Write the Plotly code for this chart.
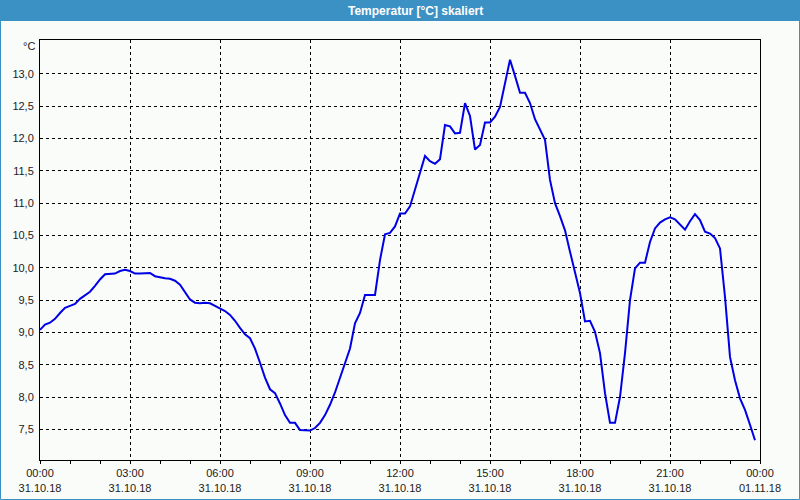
import plotly.graph_objects as go

# ---- data (10-minute readings, 31.10.18) ----
times = [
    "00:00","00:10","00:20","00:30","00:40","00:50","01:00","01:10","01:20","01:30","01:40","01:50",
    "02:00","02:10","02:20","02:30","02:40","02:50","03:00","03:10","03:20","03:30","03:40","03:50",
    "04:00","04:10","04:20","04:30","04:40","04:50","05:00","05:10","05:20","05:30","05:40","05:50",
    "06:00","06:10","06:20","06:30","06:40","06:50","07:00","07:10","07:20","07:30","07:40","07:50",
    "08:00","08:10","08:20","08:30","08:40","08:50","09:00","09:10","09:20","09:30","09:40","09:50",
    "10:00","10:10","10:20","10:30","10:40","10:50","11:00","11:10","11:20","11:30","11:40","11:50",
    "12:00","12:10","12:20","12:30","12:40","12:50","13:00","13:10","13:20","13:30","13:40","13:50",
    "14:00","14:10","14:20","14:30","14:40","14:50","15:00","15:10","15:20","15:30","15:40","15:50",
    "16:00","16:10","16:20","16:30","16:40","16:50","17:00","17:10","17:20","17:30","17:40","17:50",
    "18:00","18:10","18:20","18:30","18:40","18:50","19:00","19:10","19:20","19:30","19:40","19:50",
    "20:00","20:10","20:20","20:30","20:40","20:50","21:00","21:10","21:20","21:30","21:40","21:50",
    "22:00","22:10","22:20","22:30","22:40","22:50","23:00","23:10","23:20","23:30","23:40","23:50",
]
temps = [
    9.04, 9.12, 9.15, 9.21, 9.30, 9.38, 9.41, 9.44, 9.52, 9.58, 9.63, 9.72,
    9.82, 9.90, 9.91, 9.91, 9.95, 9.97, 9.95, 9.91, 9.91, 9.91, 9.92, 9.87,
    9.85, 9.84, 9.83, 9.80, 9.74, 9.63, 9.51, 9.46, 9.45, 9.46, 9.45, 9.41,
    9.37, 9.33, 9.27, 9.18, 9.07, 8.97, 8.91, 8.75, 8.53, 8.30, 8.12, 8.06,
    7.90, 7.72, 7.60, 7.60, 7.49, 7.48, 7.48, 7.52, 7.60, 7.72, 7.88, 8.07,
    8.30, 8.52, 8.75, 9.14, 9.30, 9.58, 9.58, 9.58, 10.12, 10.52, 10.54, 10.64,
    10.84, 10.84, 10.95, 11.22, 11.48, 11.73, 11.65, 11.61, 11.68, 12.21, 12.19, 12.08,
    12.09, 12.55, 12.35, 11.83, 11.90, 12.25, 12.25, 12.34, 12.49, 12.85, 13.22, 12.97,
    12.71, 12.71, 12.55, 12.30, 12.15, 11.98, 11.36, 11.00, 10.80, 10.58, 10.25, 9.95,
    9.61, 9.17, 9.18, 9.01, 8.68, 8.06, 7.60, 7.60, 8.00, 8.68, 9.50, 9.99,
    10.08, 10.08, 10.40, 10.61, 10.70, 10.75, 10.78, 10.75, 10.67, 10.59, 10.72, 10.83,
    10.74, 10.56, 10.53, 10.46, 10.30, 9.55, 8.62, 8.26, 7.98, 7.80, 7.57, 7.33,
]
x_tick_vals = ["2018-10-31 00:00", "2018-10-31 03:00", "2018-10-31 06:00", "2018-10-31 09:00",
               "2018-10-31 12:00", "2018-10-31 15:00", "2018-10-31 18:00", "2018-10-31 21:00",
               "2018-11-01 00:00"]
x_tick_text = ["00:00<br>31.10.18", "03:00<br>31.10.18", "06:00<br>31.10.18", "09:00<br>31.10.18",
               "12:00<br>31.10.18", "15:00<br>31.10.18", "18:00<br>31.10.18", "21:00<br>31.10.18",
               "00:00<br>01.11.18"]
y_tick_vals = [7.5, 8.0, 8.5, 9.0, 9.5, 10.0, 10.5, 11.0, 11.5, 12.0, 12.5, 13.0]

title_text = "Temperatur [°C] skaliert"
unit_text = "°C"

x = ["2018-10-31 " + t for t in times]

BG = "#fafcfa"
BLUE_BAR = "#3c91c4"
FONT = "Liberation Sans, Arial, sans-serif"

fig = go.Figure()
fig.add_trace(go.Scatter(x=x, y=temps, mode="lines",
                         line=dict(color="#0000e6", width=2), hoverinfo="x+y"))

# plot area: x 40..760, y 40..460 (px)
def px_x(p):
    return (p - 40) / 720.0

def px_y(p):
    return (460 - p) / 420.0

fig.update_layout(
    width=800, height=500,
    margin=dict(l=40, r=40, t=40, b=40, autoexpand=False),
    paper_bgcolor=BG, plot_bgcolor=BG,
    separators=",.",
    showlegend=False,
    font=dict(family=FONT, size=11, color="#1a1a1a"),
    xaxis=dict(
        type="date", automargin=False,
        range=["2018-10-31 00:00", "2018-11-01 00:00"],
        tickvals=x_tick_vals, ticktext=x_tick_text,
        ticks="outside", ticklen=3, tickcolor="black", tickwidth=1,
        minor=dict(dtick=3600000, ticks="outside", ticklen=3, tickcolor="black", showgrid=False),
        showgrid=True, gridcolor="black", gridwidth=1, griddash="3px,3px",
        showline=True, linecolor="black", linewidth=1, mirror=True,
        zeroline=False, fixedrange=True,
        tickfont=dict(family=FONT, size=11, color="#1a1a1a"),
    ),
    yaxis=dict(
        automargin=False,
        range=[7.025, 13.526],
        tickvals=y_tick_vals, tickformat=".1f",
        ticks="", ticklabelstandoff=3,
        showgrid=True, gridcolor="black", gridwidth=1, griddash="3px,3px",
        showline=True, linecolor="black", linewidth=1, mirror=True,
        zeroline=False, fixedrange=True,
        tickfont=dict(family=FONT, size=11, color="#1a1a1a"),
    ),
    shapes=[
        # title bar
        dict(type="rect", xref="paper", yref="paper", layer="below",
             x0=px_x(0), x1=px_x(800), y0=px_y(21), y1=px_y(0),
             fillcolor=BLUE_BAR, line=dict(width=0)),
        # outer border
        dict(type="rect", xref="paper", yref="paper",
             x0=px_x(0.5), x1=px_x(799.5), y0=px_y(499.5), y1=px_y(0.5),
             fillcolor="rgba(0,0,0,0)", line=dict(color=BLUE_BAR, width=1)),
    ],
    annotations=[
        dict(text="<b>" + title_text + "</b>", xref="paper", yref="paper",
             x=px_x(415), y=px_y(10.5), xanchor="center", yanchor="middle",
             showarrow=False, font=dict(family=FONT, size=12, color="white")),
        dict(text=unit_text, xref="paper", yref="paper",
             x=px_x(37), y=px_y(46), xanchor="right", yanchor="middle",
             showarrow=False, font=dict(family=FONT, size=11, color="#1a1a1a")),
    ],
)

fig.write_html(
    "out.html",
    config={"displayModeBar": False},
    post_script="document.body.style.margin='0';document.body.style.overflow='hidden';",
)
